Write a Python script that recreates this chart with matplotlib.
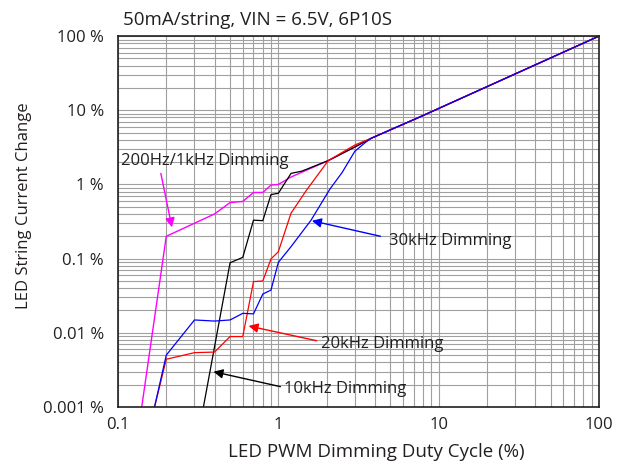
import matplotlib
matplotlib.use("Agg")
import matplotlib.pyplot as plt
from matplotlib.ticker import FixedLocator, NullFormatter, LogLocator

plt.rcParams['font.family'] = ['Open Sans', 'DejaVu Sans']

# duty cycle (%) / current change (%)
duty_200hz = [0.1406, 0.2, 0.4, 0.5, 0.6, 0.7, 0.8, 0.9, 1.0, 1.2, 2.05, 3.0, 3.8, 7.7, 100]
curr_200hz = [0.001, 0.2, 0.4, 0.57, 0.59, 0.78, 0.78, 0.98, 1.0, 1.26, 2.1, 3.2, 4.2, 8.2, 100]

duty_10khz = [0.341, 0.5, 0.6, 0.7, 0.8, 0.9, 1.0, 1.2, 1.4, 2.05, 3.0, 3.8, 7.7, 100]
curr_10khz = [0.001, 0.088, 0.104, 0.33, 0.325, 0.73, 0.76, 1.41, 1.51, 2.1, 3.2, 4.2, 8.2, 100]

duty_20khz = [0.169, 0.2, 0.3, 0.4, 0.5, 0.6, 0.7, 0.8, 0.9, 1.0, 1.2, 1.5, 2.05, 3.0, 3.8, 7.7, 100]
curr_20khz = [0.001, 0.0044, 0.0054, 0.0055, 0.0089, 0.0089, 0.049, 0.050, 0.099, 0.124, 0.41, 0.84, 2.1, 3.4, 4.2, 8.2, 100]

duty_30khz = [0.169, 0.2, 0.3, 0.4, 0.5, 0.6, 0.7, 0.8, 0.9, 1.0, 1.2, 1.6, 2.1, 2.5, 3.0, 3.5, 3.8, 7.7, 100]
curr_30khz = [0.001, 0.005, 0.0149, 0.0144, 0.0149, 0.0183, 0.018, 0.0333, 0.0377, 0.089, 0.145, 0.33, 0.87, 1.45, 2.8, 3.7, 4.2, 8.2, 100]

x_ticks = [0.1, 1, 10, 100]
x_tick_labels = ["0.1", "1", "10", "100"]
y_ticks = [0.001, 0.01, 0.1, 1, 10, 100]
y_tick_labels = ["0.001 %", "0.01 %", "0.1 %", "1 %", "10 %", "100 %"]

# (label, text position, arrow tail, arrow tip, colour)
notes = [
    ("200Hz/1kHz Dimming", (0.105, 2.09), (0.185, 1.41), (0.217, 0.264), "#ff00ff"),
    ("30kHz Dimming", (4.87, 0.173), (4.34, 0.20), (1.62, 0.324), "#0000ff"),
    ("20kHz Dimming", (1.85, 0.00706), (1.73, 0.00783), (0.652, 0.01236), "#ff0000"),
    ("10kHz Dimming", (1.08, 0.00173), (1.03, 0.00188), (0.394, 0.00299), "#000000"),
]

fs = 12
text_color = "#231f20"
fig = plt.figure(figsize=(6.29, 4.63), dpi=100)
ax = fig.add_axes([0.1876, 0.121, 0.7647, 0.801])

ax.plot(duty_200hz, curr_200hz, color="#ff00ff", lw=1.0)
ax.plot(duty_10khz, curr_10khz, color="#000000", lw=0.9)
ax.plot(duty_20khz, curr_20khz, color="#ff0000", lw=0.9)
ax.plot(duty_30khz, curr_30khz, color="#0000ff", lw=0.9)

ax.set_xscale("log")
ax.set_yscale("log")
ax.set_xlim(0.1, 100)
ax.set_ylim(0.001, 100)

ax.xaxis.set_major_locator(FixedLocator(x_ticks))
ax.set_xticklabels(x_tick_labels)
ax.yaxis.set_major_locator(FixedLocator(y_ticks))
ax.set_yticklabels(y_tick_labels)
ax.xaxis.set_minor_locator(LogLocator(base=10, subs=range(2, 10), numticks=20))
ax.yaxis.set_minor_locator(LogLocator(base=10, subs=range(2, 10), numticks=20))
ax.xaxis.set_minor_formatter(NullFormatter())
ax.yaxis.set_minor_formatter(NullFormatter())

ax.grid(True, which="both", color="#a0a0a0", lw=0.8)
ax.set_axisbelow(True)
ax.tick_params(which="both", length=0, labelsize=fs, colors=text_color)
ax.tick_params(axis="y", pad=10)
ax.tick_params(axis="x", pad=7)
for spine in ax.spines.values():
    spine.set_linewidth(1.2)
    spine.set_color(text_color)

for label, text_pos, tail, tip, color in notes:
    ax.annotate("", xy=tip, xytext=tail,
                arrowprops=dict(arrowstyle="-|>", color=color, lw=1.0,
                                mutation_scale=14, shrinkA=0, shrinkB=0))
    ax.text(text_pos[0], text_pos[1], label, fontsize=fs, color=text_color,
            ha="left", va="center")

ax.set_xlabel("LED PWM Dimming Duty Cycle (%)", fontsize=13.5, color=text_color, va="center")
ax.xaxis.set_label_coords(0.536, -0.121)
ax.set_ylabel("LED String Current Change", fontsize=fs, color=text_color, va="center")
ax.yaxis.set_label_coords(-0.195, 0.542)
fig.text(123 / 629, 1 - 20 / 463, "50mA/string, VIN = 6.5V, 6P10S",
         fontsize=13.5, color=text_color, ha="left", va="center")

fig.savefig("out.png", dpi=100)
